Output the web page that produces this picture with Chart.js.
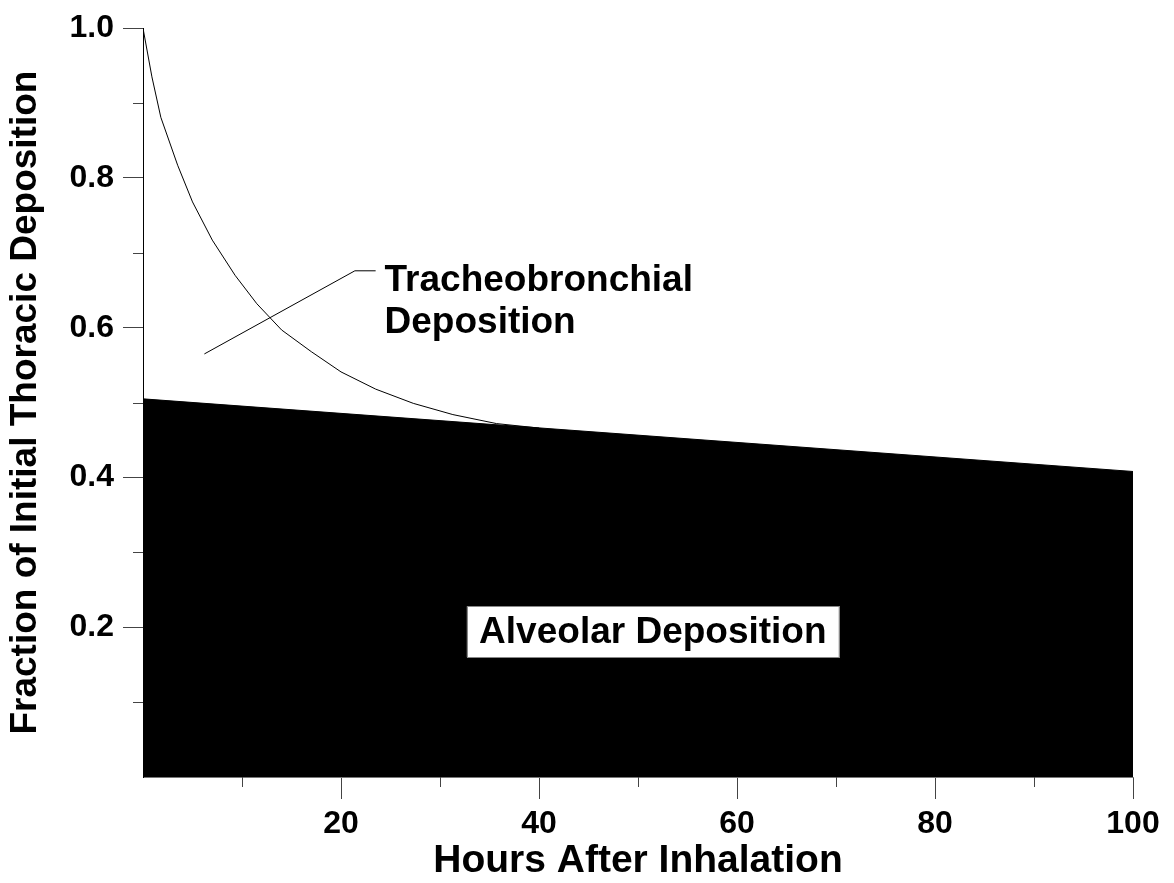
<!DOCTYPE html>
<html>
<head>
<meta charset="utf-8">
<script src="https://cdn.jsdelivr.net/npm/chart.js@4.4.1/dist/chart.umd.min.js"></script>
<style>
  body { margin: 0; background: #fff; }
  canvas { display: block; }
</style>
</head>
<body>
<canvas id="grafico" width="1174" height="883"></canvas>
<script>
// Fração total remanescente (traqueobrônquica + alveolar)
const horasTotal = [0, 0.9, 1.8, 3.5, 5, 7, 9.3, 11.5, 14, 17, 20, 23.5, 27.3, 31.3, 35.7, 40];
const fracaoTotal = [1.0, 0.935, 0.881, 0.817, 0.768, 0.717, 0.670, 0.632, 0.597, 0.568, 0.541, 0.518, 0.499, 0.484, 0.472, 0.466];

// Fração alveolar (área preenchida)
const horasAlveolar = [0, 100];
const fracaoAlveolar = [0.505, 0.408];

// Linha de chamada do rótulo traqueobrônquico
const chamadaX = [6.2, 21.4, 23.5];
const chamadaY = [0.565, 0.676, 0.676];

const ticksX = [20, 40, 60, 80, 100];
const ticksY = [0.2, 0.4, 0.6, 0.8, 1.0];
const menoresX = [10, 30, 50, 70, 90];
const menoresY = [0.1, 0.3, 0.5, 0.7, 0.9];

const FONTE = '"Liberation Sans", Arial, Helvetica, sans-serif';

const pontos = (xs, ys) => xs.map((x, i) => ({ x: x, y: ys[i] }));

// Traços menores dos eixos e rótulos de texto sobre o gráfico
const extras = {
    id: 'extras',
    afterDraw(chart) {
        const { ctx, scales: { x, y }, chartArea } = chart;
        ctx.save();
        ctx.strokeStyle = '#444';
        ctx.lineWidth = 1;
        menoresY.forEach(v => {
            const py = Math.round(y.getPixelForValue(v)) + 0.5;
            ctx.beginPath();
            ctx.moveTo(chartArea.left - 10, py);
            ctx.lineTo(chartArea.left, py);
            ctx.stroke();
        });
        menoresX.forEach(v => {
            const px = Math.round(x.getPixelForValue(v)) + 0.5;
            ctx.beginPath();
            ctx.moveTo(px, chartArea.bottom);
            ctx.lineTo(px, chartArea.bottom + 10);
            ctx.stroke();
        });

        // Rótulo traqueobrônquico
        ctx.fillStyle = '#000';
        ctx.font = 'bold 37px ' + FONTE;
        ctx.textAlign = 'left';
        ctx.textBaseline = 'middle';
        const tx = x.getPixelForValue(24.4);
        ctx.fillText('Tracheobronchial', tx, y.getPixelForValue(0.663));
        ctx.fillText('Deposition', tx, y.getPixelForValue(0.606));

        // Rótulo alveolar em caixa branca
        const cx = x.getPixelForValue(51.5);
        const cy = y.getPixelForValue(0.194);
        const largura = 372, altura = 51;
        ctx.fillStyle = '#fff';
        ctx.fillRect(cx - largura / 2, cy - altura / 2, largura, altura);
        ctx.strokeStyle = '#888';
        ctx.strokeRect(Math.round(cx - largura / 2) + 0.5, Math.round(cy - altura / 2) + 0.5, largura, altura);
        ctx.fillStyle = '#000';
        ctx.textAlign = 'center';
        ctx.fillText('Alveolar Deposition', cx, cy + 1);
        ctx.restore();
    }
};

new Chart(document.getElementById('grafico'), {
    type: 'line',
    data: {
        datasets: [
            {
                data: pontos(horasAlveolar, fracaoAlveolar),
                borderColor: '#000',
                backgroundColor: '#000',
                borderWidth: 1,
                fill: 'origin',
                pointRadius: 0,
                tension: 0
            },
            {
                data: pontos(horasTotal, fracaoTotal),
                borderColor: '#000',
                borderWidth: 1,
                fill: false,
                pointRadius: 0,
                tension: 0
            },
            {
                data: pontos(chamadaX, chamadaY),
                borderColor: '#000',
                borderWidth: 1,
                fill: false,
                pointRadius: 0,
                tension: 0
            }
        ]
    },
    options: {
        responsive: false,
        animation: false,
        layout: { padding: { left: 0, top: 24, right: 41, bottom: 0 } },
        plugins: { legend: { display: false }, tooltip: { enabled: false } },
        scales: {
            x: {
                type: 'linear',
                min: 0,
                max: 100,
                afterFit: (s) => { s.height = 106; },
                afterBuildTicks: (s) => { s.ticks = ticksX.map(v => ({ value: v })); },
                border: { color: '#777', width: 1 },
                grid: { drawOnChartArea: false, tickLength: 22, tickColor: '#444' },
                ticks: {
                    padding: 6,
                    color: '#000',
                    font: { family: FONTE, size: 32, weight: 'bold' },
                    maxRotation: 0
                },
                title: {
                    display: true,
                    text: 'Hours After Inhalation',
                    color: '#000',
                    font: { family: FONTE, size: 39, weight: 'bold', lineHeight: 1.1 },
                    padding: { top: 0, bottom: 0 }
                }
            },
            y: {
                type: 'linear',
                min: 0,
                max: 1,
                afterFit: (s) => { s.width = 143; },
                afterBuildTicks: (s) => { s.ticks = ticksY.map(v => ({ value: v })); },
                border: { color: '#000', width: 1 },
                grid: { drawOnChartArea: false, tickLength: 20, tickColor: '#444' },
                ticks: {
                    padding: 9,
                    color: '#000',
                    font: { family: FONTE, size: 32, weight: 'bold' },
                    callback: (v) => v.toFixed(1)
                },
                title: {
                    display: true,
                    text: 'Fraction of Initial Thoracic Deposition',
                    color: '#000',
                    font: { family: FONTE, size: 37, weight: 'bold' },
                    padding: { top: 4, bottom: 0 }
                }
            }
        }
    },
    plugins: [extras]
});
</script>
</body>
</html>
